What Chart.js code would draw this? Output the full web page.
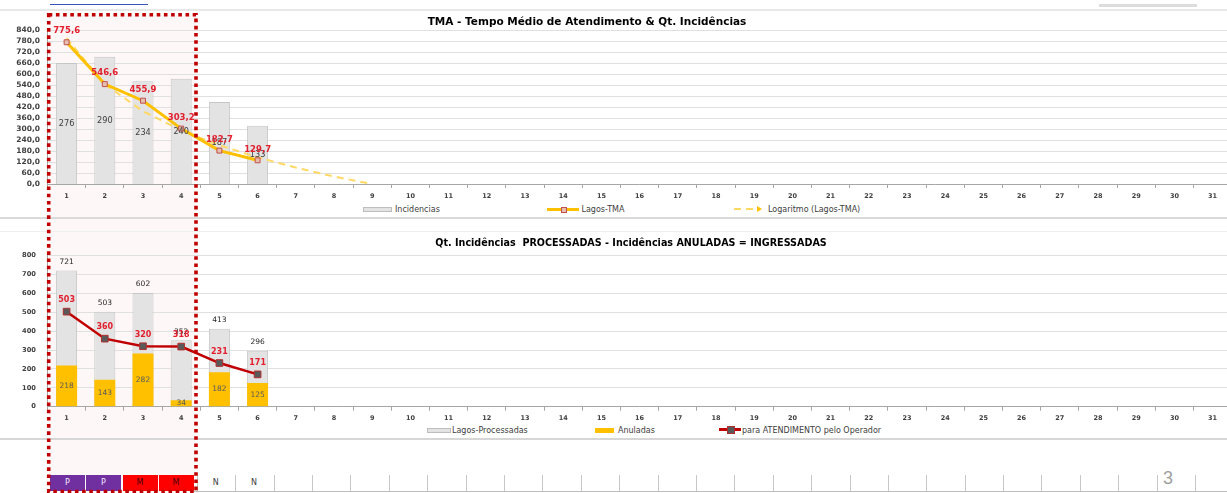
<!DOCTYPE html>
<html>
<head>
<meta charset="utf-8">
<script src="https://cdn.jsdelivr.net/npm/chart.js@4.4.1/dist/chart.umd.min.js"></script>
<style>
  body { margin: 0; background: #fff; overflow: hidden; font-family: 'DejaVu Sans', sans-serif; }
  #page { position: relative; width: 1227px; height: 493px; overflow: hidden; background: #fff; }
  .abs { position: absolute; }
  canvas { position: absolute; left: 0; }
  .title { position: absolute; font-weight: bold; font-size: 10.5px; color: #000; white-space: nowrap; transform: translate(-50%, -50%); }
  .leg { position: absolute; font-size: 8px; color: #404040; white-space: nowrap; transform: translateY(-50%); }
  .cell { position: absolute; top: 475px; height: 16px; line-height: 16px; text-align: center; font-size: 8px; }
  .sep { position: absolute; top: 475px; width: 1px; height: 16px; background: #c8c8c8; }
</style>
</head>
<body>
<div id="page">
  <!-- tint inside the highlighted week -->
  <div class="abs" style="left:49px;top:15px;width:147px;height:477px;background:#fdf7f8;"></div>

  <!-- header bits -->
  <div class="abs" style="left:50px;top:4px;width:98px;height:1px;background:#3656b8;"></div>
  <div class="abs" style="left:1099px;top:4px;width:98px;height:3px;background:#dcdcdc;"></div>
  <div class="abs" style="left:0;top:9px;width:1227px;height:2px;background:#e8e8e8;"></div>
  <div class="abs" style="left:0;top:217px;width:1227px;height:2px;background:#dadada;"></div>
  <div class="abs" style="left:0;top:231px;width:1227px;height:1px;background:#efefef;"></div>
  <div class="abs" style="left:0;top:438px;width:1227px;height:2px;background:#d6d6d6;"></div>

  <canvas id="chartTop" width="1240" height="200" style="top:0;"></canvas>
  <canvas id="chartBottom" width="1240" height="183" style="top:240px;"></canvas>

  <div class="title" style="left:587px;top:20.5px;">TMA - Tempo Médio de Atendimento &amp; Qt. Incidências</div>
  <div class="title" style="left:631px;top:242px;font-size:9.6px;">Qt. Incidências&nbsp; PROCESSADAS - Incidências ANULADAS = INGRESSADAS</div>

  <!-- legend top -->
  <div class="abs" style="left:363px;top:207px;width:27px;height:3px;background:#e3e3e3;border:1px solid #bdbdbd;"></div>
  <div class="leg" style="left:395px;top:209px;">Incidencias</div>
  <div class="abs" style="left:547px;top:207.5px;width:32px;height:3px;background:#ffc000;"></div>
  <div class="abs" style="left:561px;top:206.5px;width:4px;height:4px;background:#e6bfae;border:1px solid #c0504d;"></div>
  <div class="leg" style="left:581.5px;top:209px;">Lagos-TMA</div>
  <div class="abs" style="left:734px;top:208px;width:22px;height:2px;background:repeating-linear-gradient(90deg,#ffd966 0 7px,transparent 7px 12px);"></div>
  <div class="abs" style="left:757px;top:206px;width:0;height:0;border-top:3px solid transparent;border-bottom:3px solid transparent;border-left:5px solid #ffc000;"></div>
  <div class="leg" style="left:768px;top:209px;">Logaritmo (Lagos-TMA)</div>

  <!-- legend bottom -->
  <div class="abs" style="left:427px;top:427.5px;width:22px;height:3px;background:#e3e3e3;border:1px solid #bdbdbd;"></div>
  <div class="leg" style="left:452px;top:429.5px;">Lagos-Processadas</div>
  <div class="abs" style="left:595px;top:427.5px;width:19px;height:5px;background:#ffc000;"></div>
  <div class="leg" style="left:618px;top:429.5px;">Anuladas</div>
  <div class="abs" style="left:719px;top:428px;width:22px;height:3px;background:#c00000;"></div>
  <div class="abs" style="left:726.5px;top:426px;width:6px;height:6px;background:#595959;border:1px solid #b03030;"></div>
  <div class="leg" style="left:742px;top:429.5px;">para ATENDIMENTO pelo Operador</div>

  <div id="cells"></div>
  <div class="abs" style="left:194px;top:491px;width:1033px;height:1px;background:#bdbdbd;"></div>
  <div class="abs" style="left:1163px;top:468px;font-family:'Liberation Sans',sans-serif;font-size:18px;color:#a0a0a0;">3</div>

  <svg class="abs" style="left:0;top:0;" width="1227" height="493">
    <rect x="48.7" y="14.7" width="147.3" height="476.8" fill="none" stroke="#c00000" stroke-width="3.6" stroke-dasharray="3.6 3.6"/>
  </svg>
</div>

<script>
// chart data
var days = ['1','2','3','4','5','6','7','8','9','10','11','12','13','14','15','16',
            '17','18','19','20','21','22','23','24','25','26','27','28','29','30','31'];
var incidencias = [276, 290, 234, 240, 187, 133];
var lagosTMA = [775.6, 546.6, 455.9, 303.2, 182.7, 129.7];
var logTMA = [798, 546, 398, 294, 212, 146, 90, 41, 0];
var processadas = [721, 503, 602, 352, 413, 296];
var anuladas = [218, 143, 282, 34, 182, 125];
var atendimento = [503, 360, 320, 318, 231, 171];
var turnos = ['P', 'P', 'M', 'M', 'N', 'N'];

Chart.defaults.font.family = "'DejaVu Sans', sans-serif";
Chart.defaults.color = '#404040';

// draws value labels next to bars / points
var valueLabels = {
  id: 'valueLabels',
  afterDatasetsDraw: function (chart) {
    var ctx = chart.ctx;
    chart.data.datasets.forEach(function (ds, i) {
      var opt = ds.valueLabel;
      if (!opt) return;
      var meta = chart.getDatasetMeta(i);
      meta.data.forEach(function (el, j) {
        var v = ds.data[j];
        if (v == null) return;
        var y = opt.pos === 'center' ? (el.y + el.base) / 2 : el.y + opt.dy;
        ctx.save();
        ctx.font = opt.font;
        ctx.fillStyle = opt.color;
        ctx.textAlign = 'center';
        ctx.textBaseline = 'middle';
        ctx.fillText(opt.fmt ? opt.fmt(v) : String(v), el.x, y);
        ctx.restore();
      });
    });
  }
};

function comma(v) { return v.toFixed(1).replace('.', ','); }

var xAxis = function (h, pad) {
  return {
    offset: true,
    grid: { display: true, drawOnChartArea: false, drawTicks: true, tickLength: 4, offset: true, color: '#a6a6a6' },
    border: { display: true, color: '#a6a6a6' },
    ticks: { font: { size: 6.5, weight: 'bold' }, color: '#404040', padding: pad, maxRotation: 0, autoSkip: false },
    afterFit: function (s) { s.height = h; }
  };
};

new Chart(document.getElementById('chartTop').getContext('2d'), {
  type: 'bar',
  data: {
    labels: days,
    datasets: [{
      type: 'bar',
      label: 'Incidencias',
      data: incidencias,
      yAxisID: 'y2',
      backgroundColor: '#e3e3e3',
      borderColor: '#c6c6c6',
      borderWidth: 1,
      barPercentage: 0.55,
      categoryPercentage: 1,
      order: 3,
      valueLabel: { pos: 'center', font: '8.2px "DejaVu Sans"', color: '#404040' }
    }, {
      type: 'line',
      label: 'Logaritmo (Lagos-TMA)',
      data: logTMA,
      borderColor: '#ffd966',
      borderWidth: 2,
      borderDash: [7, 5],
      pointRadius: 0,
      tension: 0,
      order: 2
    }, {
      type: 'line',
      label: 'Lagos-TMA',
      data: lagosTMA,
      borderColor: '#ffc000',
      borderWidth: 3,
      pointStyle: 'rect',
      pointRadius: 3.5,
      pointBackgroundColor: '#e6bfae',
      pointBorderColor: '#c0504d',
      pointBorderWidth: 1,
      tension: 0,
      order: 1,
      valueLabel: { dy: -11, font: 'bold 8.5px "DejaVu Sans"', color: '#e31e2d', fmt: comma }
    }]
  },
  options: {
    responsive: false,
    animation: false,
    layout: { padding: { top: 30.5, right: 8.3, left: 0, bottom: 0 } },
    plugins: { legend: { display: false }, tooltip: { enabled: false } },
    scales: {
      x: xAxis(16, 4.5),
      y: {
        min: 0, max: 840,
        ticks: { stepSize: 60, autoSkip: false, callback: comma, font: { size: 7.5, weight: 'bold' }, color: '#404040', padding: 7.5 },
        grid: { color: '#e0e0e0', drawTicks: false },
        border: { display: true, color: '#a6a6a6' },
        afterFit: function (s) { s.width = 47.5; }
      },
      y2: { display: false, min: 0, max: 350 }
    }
  },
  plugins: [valueLabels]
});

new Chart(document.getElementById('chartBottom').getContext('2d'), {
  type: 'bar',
  data: {
    labels: days,
    datasets: [{
      label: 'Lagos-Processadas',
      data: processadas,
      backgroundColor: '#e3e3e3',
      borderColor: '#c6c6c6',
      borderWidth: 1,
      barPercentage: 0.55,
      categoryPercentage: 1,
      grouped: false,
      order: 3,
      valueLabel: { dy: -8.5, font: '7.5px "DejaVu Sans"', color: '#262626' }
    }, {
      label: 'Anuladas',
      data: anuladas,
      backgroundColor: '#ffc000',
      borderWidth: 0,
      barPercentage: 0.55,
      categoryPercentage: 1,
      grouped: false,
      order: 2,
      valueLabel: { pos: 'center', font: '7.5px "DejaVu Sans"', color: '#595959' }
    }, {
      type: 'line',
      label: 'para ATENDIMENTO pelo Operador',
      data: atendimento,
      borderColor: '#c00000',
      borderWidth: 2.5,
      pointStyle: 'rect',
      pointRadius: 4.7,
      pointBackgroundColor: '#595959',
      pointBorderColor: '#b03030',
      pointBorderWidth: 1,
      tension: 0,
      order: 1,
      valueLabel: { dy: -11.5, font: 'bold 8px "DejaVu Sans"', color: '#e31e2d' }
    }]
  },
  options: {
    responsive: false,
    animation: false,
    layout: { padding: { top: 12.7, right: 8.3, left: 0, bottom: 0 } },
    plugins: { legend: { display: false }, tooltip: { enabled: false } },
    scales: {
      x: xAxis(16.3, 3.3),
      y: {
        min: 0, max: 800,
        ticks: { stepSize: 100, autoSkip: false, font: { size: 6.7, weight: 'bold' }, color: '#404040', padding: 11.5 },
        grid: { color: '#e0e0e0', drawTicks: false },
        border: { display: true, color: '#a6a6a6' },
        afterFit: function (s) { s.width = 47.5; }
      }
    }
  },
  plugins: [valueLabels]
});

// shift row under the charts
var cells = document.getElementById('cells');
var shiftStyle = { P: ['#7030a0', '#f2e8ff'], M: ['#ff0000', '#4a0000'], N: ['#ffffff', '#404040'] };
var cellLeft = [50, 86, 122.5, 158.5, 197];
for (var k = 0; k < 26; k++) cellLeft.push(235.3 + k * 38.39);
turnos.forEach(function (t, i) {
  var d = document.createElement('div');
  d.className = 'cell';
  var w = (i < 4 ? 35 : cellLeft[i + 1] - cellLeft[i] - 1);
  d.style.left = cellLeft[i] + 'px';
  d.style.width = w + 'px';
  d.style.background = shiftStyle[t][0];
  d.style.color = shiftStyle[t][1];
  d.textContent = t;
  cells.appendChild(d);
});
for (var s = 4; s < cellLeft.length; s++) {
  var sep = document.createElement('div');
  sep.className = 'sep';
  sep.style.left = cellLeft[s] + 'px';
  cells.appendChild(sep);
}
</script>
</body>
</html>
